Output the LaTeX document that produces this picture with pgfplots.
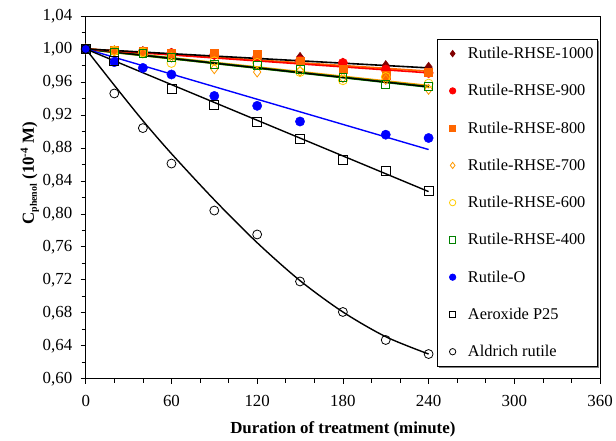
\documentclass[border=0pt]{standalone}
\usepackage{fontspec}
\setmainfont{Liberation Serif}
\usepackage{pgfplots}
\pgfplotsset{compat=1.18}
\usetikzlibrary{shadows}
\definecolor{cDarkRed}{HTML}{800000}
\definecolor{cRed}{HTML}{FF0000}
\definecolor{cOrange}{HTML}{FF6600}
\definecolor{cOrLight}{HTML}{FF9900}
\definecolor{cYellow}{HTML}{FFCC00}
\definecolor{cGreen}{HTML}{008000}
\definecolor{cBlue}{HTML}{0000FF}
\pgfplotsset{lgm/.style={only marks,
  legend image code/.code={\draw[##1, mark size=3.2pt] plot coordinates {(0bp,0bp)}; \path (-13bp,0bp) (13bp,0bp);}}}
\begin{document}
\begin{tikzpicture}
\begin{axis}[
  scale only axis, width=516bp, height=364bp,
  xmin=0, xmax=360, ymin=0.60, ymax=1.04,
  xtick={0,60,...,360}, minor x tick num=2,
  ytick={0.60,0.64,0.68,0.72,0.76,0.80,0.84,0.88,0.92,0.96,1.00,1.04},
  minor y tick num=1,
  tick align=outside, tick pos=left,
  major tick length=5bp, minor tick length=4bp,
  axis line style={line width=0.9bp},
  every tick/.style={black, line width=0.7bp},
  /pgf/number format/assume math mode=true,
  tick label style={font=\fontsize{17}{20}\selectfont},
  xticklabel style={yshift=-8bp},
  yticklabel style={xshift=-5bp, /pgf/number format/fixed, /pgf/number format/fixed zerofill,
    /pgf/number format/precision=2, /pgf/number format/use comma},
  xlabel={\textbf{Duration of treatment (minute)}},
  xlabel style={font=\fontsize{17}{20}\selectfont, at={(axis description cs:0.5,-0.14)}, anchor=center},
  ylabel={\textbf{C\raisebox{-3bp}{\fontsize{10}{11}\selectfont phenol} (10\raisebox{6bp}{\fontsize{11}{12}\selectfont -4} M)}},
  ylabel style={font=\fontsize{17}{20}\selectfont, at={(axis description cs:-0.1085,0.566)}, anchor=center, rotate=0},
  legend cell align=left,
  legend style={at={(axis description cs:0.996,0.937)}, anchor=north east,
    font=\fontsize{16.5}{19}\selectfont, draw=black, line width=0.8bp, fill=white,
    row sep=20.5bp, inner xsep=2bp, inner ysep=6bp,
    drop shadow={shadow xshift=1.5bp, shadow yshift=-1.5bp, opacity=1, fill=gray}},
]
% markers
\addplot[lgm, mark=diamond*, mark size=5pt, color=cDarkRed] coordinates {
(0,1.000)(20,0.998)(40,0.997)(60,0.995)(90,0.993)(120,0.991)(150,0.990)(180,0.983)(210,0.980)(240,0.978)};
\addlegendentry{Rutile-RHSE-1000}
\addplot[lgm, mark=*, mark size=4.7pt, color=cRed] coordinates {
(0,1.000)(20,0.998)(40,0.997)(60,0.995)(90,0.993)(120,0.990)(150,0.986)(180,0.983)(210,0.975)(240,0.971)};
\addlegendentry{Rutile-RHSE-900}
\addplot[lgm, mark=square*, mark size=4pt, color=cOrange] coordinates {
(0,1.000)(20,0.998)(40,0.997)(60,0.995)(90,0.995)(120,0.994)(150,0.985)(180,0.975)(210,0.968)(240,0.972)};
\addlegendentry{Rutile-RHSE-800}
\addplot[lgm, mark=diamond, mark size=5pt, color=cOrLight, thick] coordinates {
(0,1.000)(20,0.997)(40,0.995)(60,0.990)(90,0.976)(120,0.972)(150,0.973)(180,0.965)(210,0.963)(240,0.951)};
\addlegendentry{Rutile-RHSE-700}
\addplot[lgm, mark=o, mark size=4.5pt, color=cYellow, thick] coordinates {
(0,1.000)(20,0.998)(40,0.996)(60,0.983)(90,0.985)(120,0.983)(150,0.972)(180,0.962)(210,0.966)(240,0.958)};
\addlegendentry{Rutile-RHSE-600}
\addplot[lgm, mark=square, mark size=4pt, color=cGreen, thick] coordinates {
(0,1.000)(20,0.996)(40,0.995)(60,0.990)(90,0.981)(120,0.980)(150,0.975)(180,0.966)(210,0.957)(240,0.955)};
\addlegendentry{Rutile-RHSE-400}
\addplot[lgm, mark=*, mark size=4.7pt, color=cBlue] coordinates {
(0,1.000)(20,0.984)(40,0.977)(60,0.969)(90,0.943)(120,0.931)(150,0.912)(210,0.896)(240,0.892)};
\addlegendentry{Rutile-O}
\addplot[lgm, mark=square, mark size=4.5pt, color=black, thick] coordinates {
(0,1.000)(20,0.985)(60,0.952)(90,0.932)(120,0.912)(150,0.891)(180,0.865)(210,0.852)(240,0.828)};
\addlegendentry{Aeroxide P25}
\addplot[lgm, mark=o, mark size=4.5pt, color=black, thick] coordinates {
(0,1.000)(20,0.946)(40,0.904)(60,0.861)(90,0.804)(120,0.775)(150,0.718)(180,0.681)(210,0.647)(240,0.630)};
\addlegendentry{Aldrich rutile}
% fit lines
\addplot[forget plot, no marks, color=cOrLight, line width=2.6bp] coordinates {(0,1.000)(240,0.955)};
\addplot[forget plot, no marks, color=cGreen, line width=2.2bp] coordinates {(0,1.000)(240,0.954)};
\addplot[forget plot, no marks, color=black, line width=1.4bp] coordinates {(0,1.000)(240,0.954)};
\addplot[forget plot, no marks, color=cOrange, line width=1.8bp] coordinates {(0,1.000)(240,0.973)};
\addplot[forget plot, no marks, color=cRed, line width=1.6bp] coordinates {(0,1.000)(240,0.971)};
\addplot[forget plot, no marks, color=black, line width=1.6bp] coordinates {(0,1.000)(240,0.977)};
\addplot[forget plot, no marks, color=cBlue, line width=1.4bp] coordinates {(0,1.000)(240,0.878)};
\addplot[forget plot, no marks, color=black, line width=1.4bp] coordinates {(0,1.000)(240,0.827)};
\addplot[forget plot, no marks, smooth, color=black, line width=1.4bp] coordinates {
(0,1.000)(20,0.956)(40,0.913)(60,0.873)(90,0.817)(120,0.765)(150,0.719)(180,0.681)(210,0.651)(240,0.630)};
\coordinate (bb1) at (rel axis cs:-0.1667,-0.162);
\coordinate (bb2) at (rel axis cs:1.0271,1.044);
\end{axis}
\path (bb1) rectangle (bb2);
\end{tikzpicture}
\end{document}
